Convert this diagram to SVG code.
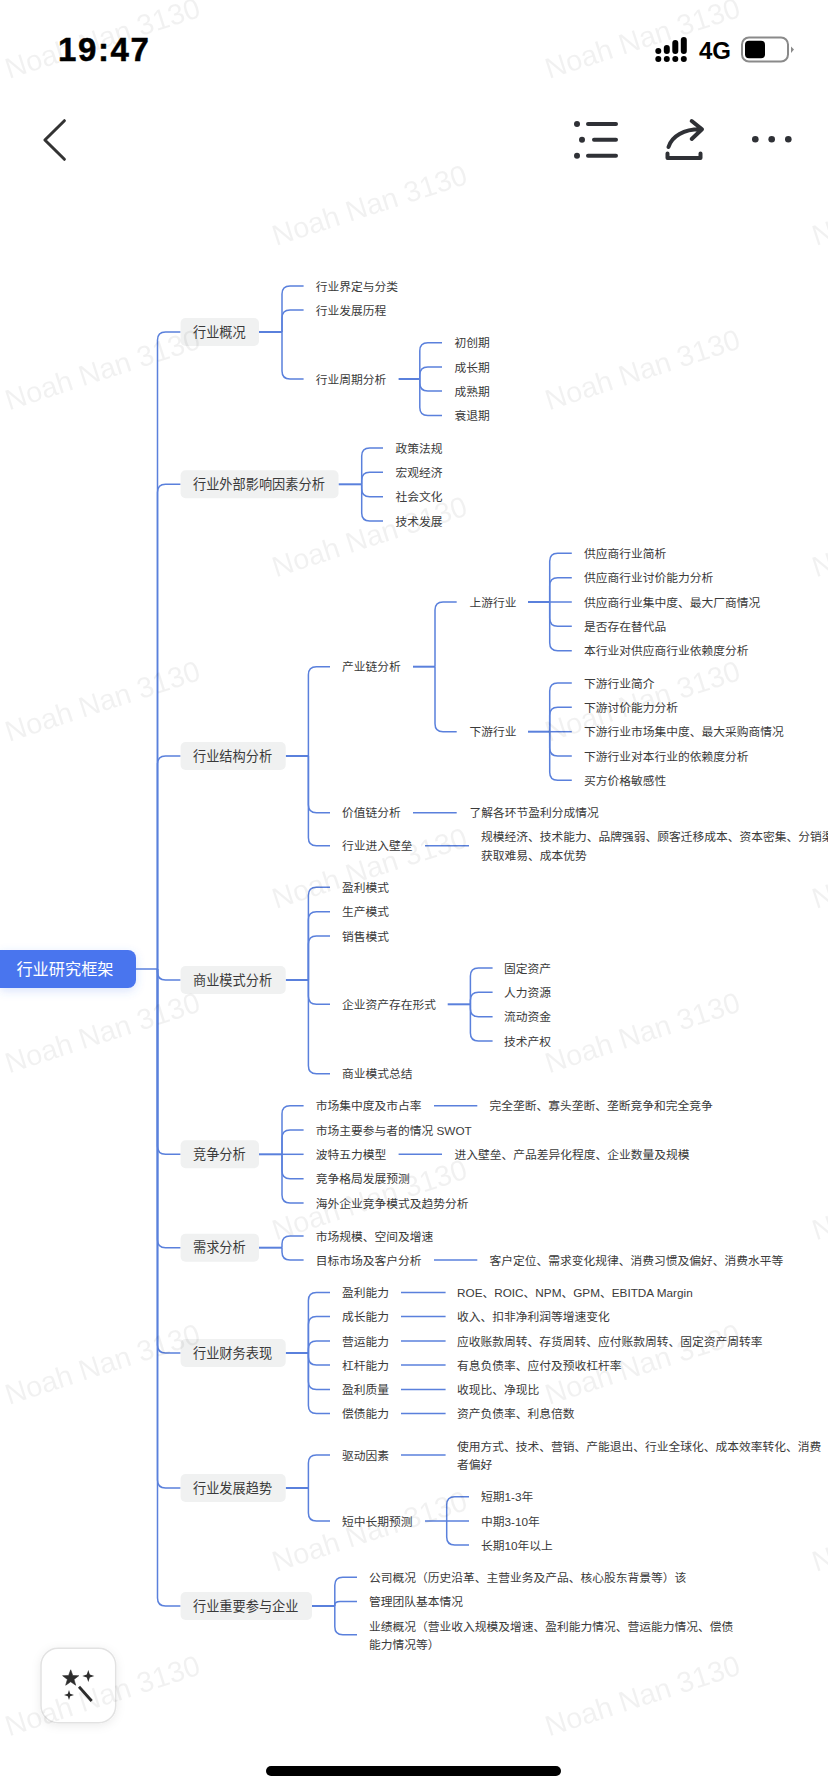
<svg xmlns="http://www.w3.org/2000/svg" width="828" height="1792" viewBox="0 0 828 1792">
<style>
text{font-family:"Liberation Sans","Noto Sans CJK SC",sans-serif;dominant-baseline:central}
.t{font-size:11.75px;fill:#3a3a3a}
.m{font-size:13.2px;fill:#3a3a3a}
.r{font-size:16.2px;fill:#fff}
.b{fill:#f0f1f1}
.c path{fill:none;stroke:#5a80dc;stroke-width:1.5}
.c .s{stroke-width:2}
.w text{font-family:"Liberation Sans",sans-serif;font-size:29px;fill:#000;opacity:.05;dominant-baseline:auto}
.i{fill:none;stroke:#2f3136;stroke-width:4;stroke-linecap:round;stroke-linejoin:round}
.d{fill:#2f3136}
</style>
<defs>
<filter id="sh" x="-30%" y="-30%" width="160%" height="170%"><feDropShadow dx="0" dy="3" stdDeviation="5" flood-color="#4a74ee" flood-opacity=".2"/></filter>
<filter id="sg" x="-30%" y="-30%" width="160%" height="160%"><feDropShadow dx="0" dy="2" stdDeviation="5" flood-color="#000" flood-opacity=".08"/></filter>
</defs>
<rect width="828" height="1792" fill="#fff"/>

<g id="statusbar">
<text x="58" y="61" style="font-family:'Liberation Sans',sans-serif;font-size:33px;font-weight:700;letter-spacing:1.6px;dominant-baseline:auto" fill="#000" stroke="#000" stroke-width=".5">19:47</text>
<g fill="#000">
<circle cx="658.3" cy="59" r="3"/><circle cx="666.8" cy="59" r="3"/><circle cx="675.3" cy="59" r="3"/><circle cx="683.8" cy="59" r="3"/>
<rect x="655.3" y="48" width="6" height="6" rx="3"/><rect x="663.8" y="45" width="6" height="9" rx="3"/><rect x="672.3" y="40" width="6" height="14" rx="3"/><rect x="680.8" y="37" width="6" height="17" rx="3"/>
<rect x="745" y="40.7" width="20" height="17.6" rx="4"/>
</g>
<text x="699" y="59" style="font-family:'Liberation Sans',sans-serif;font-size:24px;font-weight:700;dominant-baseline:auto" fill="#000">4G</text>
<rect x="742" y="37.5" width="46" height="24" rx="7" fill="none" stroke="#8a8a8a" stroke-width="2"/>
<path d="M791 46.5L794 49.5L791 53Z" fill="#8a8a8a"/>
</g>

<g id="toolbar">
<path d="M64.4 120.7L44.9 140L64.4 159.3" fill="none" stroke="#333" stroke-width="3" stroke-linecap="round" stroke-linejoin="round"/>
<circle class="d" cx="577" cy="124" r="3"/><circle class="d" cx="582" cy="139.7" r="3"/><circle class="d" cx="577" cy="155.7" r="3"/>
<path class="i" d="M588 124H616M594 139.7H616M588 155.7H616"/>
<path class="i" d="M668.5 147C672 136 684 129.3 700 129.3M691.7 121L702 129.3L691.7 139M667.5 153.5V158H700.5V153.5"/>
<circle class="d" cx="755.3" cy="139.3" r="3.3"/><circle class="d" cx="771.7" cy="139.3" r="3.3"/><circle class="d" cx="788.3" cy="139.3" r="3.3"/>
</g>

<g class="c" id="connectors">
<path d="M136 969H157.5"/>
<path d="M157.5 969V340Q157.5 332 165.5 332H180.6"/>
<path d="M157.5 969V492.3Q157.5 484.3 165.5 484.3H180.6"/>
<path d="M157.5 969V764Q157.5 756 165.5 756H180.6"/>
<path d="M157.5 969V972Q157.5 980 165.5 980H180.6"/>
<path d="M157.5 969V1146.3Q157.5 1154.3 165.5 1154.3H180.6"/>
<path d="M157.5 969V1239.7Q157.5 1247.7 165.5 1247.7H180.6"/>
<path d="M157.5 969V1345Q157.5 1353 165.5 1353H180.6"/>
<path d="M157.5 969V1480Q157.5 1488 165.5 1488H180.6"/>
<path d="M157.5 969V1598Q157.5 1606 165.5 1606H180.6"/>

<path class="s" d="M259 332H282"/>
<path d="M282 332V294Q282 286 290 286H303.6"/>
<path d="M282 332V318Q282 310 290 310H303.6"/>
<path d="M282 332V371Q282 379 290 379H303.6"/>
<path class="s" d="M398.6 379H419.8"/>
<path d="M419.8 379V350.7Q419.8 342.7 427.8 342.7H442"/>
<path d="M419.8 379V375Q419.8 367 427.8 367H442"/>
<path d="M419.8 379V383Q419.8 391 427.8 391H442"/>
<path d="M419.8 379V407.5Q419.8 415.5 427.8 415.5H442"/>

<path class="s" d="M338.5 484.3H361.7"/>
<path d="M361.7 484.3V456Q361.7 448 369.7 448H383"/>
<path d="M361.7 484.3V480.3Q361.7 472.3 369.7 472.3H383"/>
<path d="M361.7 484.3V488.7Q361.7 496.7 369.7 496.7H383"/>
<path d="M361.7 484.3V513Q361.7 521 369.7 521H383"/>

<path class="s" d="M285.7 756H308.4"/>
<path d="M308.4 756V674.7Q308.4 666.7 316.4 666.7H330"/>
<path d="M308.4 756V804.7Q308.4 812.7 316.4 812.7H330"/>
<path d="M308.4 756V837.7Q308.4 845.7 316.4 845.7H330"/>
<path class="s" d="M413 666.7H435"/>
<path d="M435 666.7V610Q435 602 443 602H456.7"/>
<path d="M435 666.7V723.7Q435 731.7 443 731.7H456.7"/>
<path class="s" d="M528 602H549.7"/>
<path d="M549.7 602V561.3Q549.7 553.3 557.7 553.3H571.8"/>
<path d="M549.7 602V585.7Q549.7 577.7 557.7 577.7H571.8"/>
<path d="M549.7 602H571.8"/>
<path d="M549.7 602V618.3Q549.7 626.3 557.7 626.3H571.8"/>
<path d="M549.7 602V642.7Q549.7 650.7 557.7 650.7H571.8"/>
<path class="s" d="M528 731.7H549.7"/>
<path d="M549.7 731.7V691Q549.7 683 557.7 683H571.8"/>
<path d="M549.7 731.7V715.3Q549.7 707.3 557.7 707.3H571.8"/>
<path d="M549.7 731.7H571.8"/>
<path d="M549.7 731.7V748Q549.7 756 557.7 756H571.8"/>
<path d="M549.7 731.7V772.3Q549.7 780.3 557.7 780.3H571.8"/>
<path d="M413 812.7H456.7"/>
<path d="M425 845.7H469"/>

<path class="s" d="M285.7 980H308.4"/>
<path d="M308.4 980V895.3Q308.4 887.3 316.4 887.3H330"/>
<path d="M308.4 980V919.7Q308.4 911.7 316.4 911.7H330"/>
<path d="M308.4 980V944Q308.4 936 316.4 936H330"/>
<path d="M308.4 980V996.3Q308.4 1004.3 316.4 1004.3H330"/>
<path d="M308.4 980V1065.7Q308.4 1073.7 316.4 1073.7H330"/>
<path class="s" d="M447.7 1004.3H470.4"/>
<path d="M470.4 1004.3V976Q470.4 968 478.4 968H492.6"/>
<path d="M470.4 1004.3V1000.3Q470.4 992.3 478.4 992.3H492.6"/>
<path d="M470.4 1004.3V1008.7Q470.4 1016.7 478.4 1016.7H492.6"/>
<path d="M470.4 1004.3V1033Q470.4 1041 478.4 1041H492.6"/>

<path class="s" d="M259 1154.3H282"/>
<path d="M282 1154.3V1113.7Q282 1105.7 290 1105.7H303.6"/>
<path d="M282 1154.3V1138Q282 1130 290 1130H303.6"/>
<path d="M282 1154.3H303.6"/>
<path d="M282 1154.3V1170.7Q282 1178.7 290 1178.7H303.6"/>
<path d="M282 1154.3V1195Q282 1203 290 1203H303.6"/>
<path d="M434 1105.7H477.3"/>
<path d="M398.6 1154.3H442"/>

<path class="s" d="M259 1247.7H282"/>
<path d="M282 1247.7V1244Q282 1236 290 1236H303.6"/>
<path d="M282 1247.7V1252Q282 1260 290 1260H303.6"/>
<path d="M434 1260H477.3"/>

<path class="s" d="M285.7 1353H308.4"/>
<path d="M308.4 1353V1300.5Q308.4 1292.5 316.4 1292.5H330"/>
<path d="M308.4 1353V1324.4Q308.4 1316.4 316.4 1316.4H330"/>
<path d="M308.4 1353V1349Q308.4 1341 316.4 1341H330"/>
<path d="M308.4 1353V1357Q308.4 1365 316.4 1365H330"/>
<path d="M308.4 1353V1381.6Q308.4 1389.6 316.4 1389.6H330"/>
<path d="M308.4 1353V1405.6Q308.4 1413.6 316.4 1413.6H330"/>
<path d="M401 1292.5H445.6"/>
<path d="M401 1316.4H445.6"/>
<path d="M401 1341H445.6"/>
<path d="M401 1365H445.6"/>
<path d="M401 1389.6H445.6"/>
<path d="M401 1413.6H445.6"/>

<path class="s" d="M285.7 1488H308.4"/>
<path d="M308.4 1488V1463Q308.4 1455 316.4 1455H330"/>
<path d="M308.4 1488V1513Q308.4 1521 316.4 1521H330"/>
<path d="M401 1455H445.6"/>
<path d="M425 1521H469"/>
<path d="M446.7 1521V1504.7Q446.7 1496.7 454.7 1496.7H469"/>
<path d="M446.7 1521V1537Q446.7 1545 454.7 1545H469"/>

<path class="s" d="M312 1606H334.8"/>
<path d="M334.8 1606V1585.3Q334.8 1577.3 342.8 1577.3H357"/>
<path d="M334.8 1606V1605Q334.8 1601.6 340 1601.6H357"/>
<path d="M334.8 1606V1626.7Q334.8 1634.7 342.8 1634.7H357"/>
</g>

<g id="root"><path d="M0 950H128a8 8 0 0 1 8 8V980a8 8 0 0 1 -8 8H0Z" fill="#4a74ee" filter="url(#sh)"/><text class="r" x="16.4" y="969">行业研究框架</text></g>

<g id="n1"><rect class="b" x="180.6" y="318" width="78.4" height="28" rx="5"/><text class="m" x="193" y="332">行业概况</text></g>
<g id="n1-1"><text class="t" x="315.7" y="286">行业界定与分类</text></g>
<g id="n1-2"><text class="t" x="315.7" y="310">行业发展历程</text></g>
<g id="n1-3"><text class="t" x="315.7" y="379">行业周期分析</text></g>
<g id="n1-3-1"><text class="t" x="454.6" y="342.7">初创期</text></g>
<g id="n1-3-2"><text class="t" x="454.6" y="367">成长期</text></g>
<g id="n1-3-3"><text class="t" x="454.6" y="391">成熟期</text></g>
<g id="n1-3-4"><text class="t" x="454.6" y="415.5">衰退期</text></g>

<g id="n2"><rect class="b" x="180.6" y="470.3" width="157.9" height="28" rx="5"/><text class="m" x="193" y="484.3">行业外部影响因素分析</text></g>
<g id="n2-1"><text class="t" x="395.5" y="448">政策法规</text></g>
<g id="n2-2"><text class="t" x="395.5" y="472.3">宏观经济</text></g>
<g id="n2-3"><text class="t" x="395.5" y="496.7">社会文化</text></g>
<g id="n2-4"><text class="t" x="395.5" y="521">技术发展</text></g>

<g id="n3"><rect class="b" x="180.6" y="742" width="105.1" height="28" rx="5"/><text class="m" x="193" y="756">行业结构分析</text></g>
<g id="n3-1"><text class="t" x="342" y="666.7">产业链分析</text></g>
<g id="n3-1-1"><text class="t" x="469.4" y="602">上游行业</text></g>
<g id="n3-1-1-1"><text class="t" x="584" y="553.3">供应商行业简析</text></g>
<g id="n3-1-1-2"><text class="t" x="584" y="577.7">供应商行业讨价能力分析</text></g>
<g id="n3-1-1-3"><text class="t" x="584" y="602">供应商行业集中度、最大厂商情况</text></g>
<g id="n3-1-1-4"><text class="t" x="584" y="626.3">是否存在替代品</text></g>
<g id="n3-1-1-5"><text class="t" x="584" y="650.7">本行业对供应商行业依赖度分析</text></g>
<g id="n3-1-2"><text class="t" x="469.4" y="731.7">下游行业</text></g>
<g id="n3-1-2-1"><text class="t" x="584" y="683">下游行业简介</text></g>
<g id="n3-1-2-2"><text class="t" x="584" y="707.3">下游讨价能力分析</text></g>
<g id="n3-1-2-3"><text class="t" x="584" y="731.7">下游行业市场集中度、最大采购商情况</text></g>
<g id="n3-1-2-4"><text class="t" x="584" y="756">下游行业对本行业的依赖度分析</text></g>
<g id="n3-1-2-5"><text class="t" x="584" y="780.3">买方价格敏感性</text></g>
<g id="n3-2"><text class="t" x="342" y="812.7">价值链分析</text></g>
<g id="n3-2-1"><text class="t" x="469.4" y="812.7">了解各环节盈利分成情况</text></g>
<g id="n3-3"><text class="t" x="342" y="845.7">行业进入壁垒</text></g>
<g id="n3-3-1"><text class="t" x="481" y="836.7">规模经济、技术能力、品牌强弱、顾客迁移成本、资本密集、分销渠</text><text class="t" x="481" y="855">获取难易、成本优势</text></g>

<g id="n4"><rect class="b" x="180.6" y="966" width="105.1" height="28" rx="5"/><text class="m" x="193" y="980">商业模式分析</text></g>
<g id="n4-1"><text class="t" x="342" y="887.3">盈利模式</text></g>
<g id="n4-2"><text class="t" x="342" y="911.7">生产模式</text></g>
<g id="n4-3"><text class="t" x="342" y="936">销售模式</text></g>
<g id="n4-4"><text class="t" x="342" y="1004.3">企业资产存在形式</text></g>
<g id="n4-4-1"><text class="t" x="504" y="968">固定资产</text></g>
<g id="n4-4-2"><text class="t" x="504" y="992.3">人力资源</text></g>
<g id="n4-4-3"><text class="t" x="504" y="1016.7">流动资金</text></g>
<g id="n4-4-4"><text class="t" x="504" y="1041">技术产权</text></g>
<g id="n4-5"><text class="t" x="342" y="1073.7">商业模式总结</text></g>

<g id="n5"><rect class="b" x="180.6" y="1140.3" width="78.4" height="28" rx="5"/><text class="m" x="193" y="1154.3">竞争分析</text></g>
<g id="n5-1"><text class="t" x="315.7" y="1105.7">市场集中度及市占率</text></g>
<g id="n5-1-1"><text class="t" x="489.5" y="1105.7">完全垄断、寡头垄断、垄断竞争和完全竞争</text></g>
<g id="n5-2"><text class="t" x="315.7" y="1130">市场主要参与者的情况 SWOT</text></g>
<g id="n5-3"><text class="t" x="315.7" y="1154.3">波特五力模型</text></g>
<g id="n5-3-1"><text class="t" x="454.6" y="1154.3">进入壁垒、产品差异化程度、企业数量及规模</text></g>
<g id="n5-4"><text class="t" x="315.7" y="1178.7">竞争格局发展预测</text></g>
<g id="n5-5"><text class="t" x="315.7" y="1203">海外企业竞争模式及趋势分析</text></g>

<g id="n6"><rect class="b" x="180.6" y="1233.7" width="78.4" height="28" rx="5"/><text class="m" x="193" y="1247.7">需求分析</text></g>
<g id="n6-1"><text class="t" x="315.7" y="1236">市场规模、空间及增速</text></g>
<g id="n6-2"><text class="t" x="315.7" y="1260">目标市场及客户分析</text></g>
<g id="n6-2-1"><text class="t" x="489.5" y="1260">客户定位、需求变化规律、消费习惯及偏好、消费水平等</text></g>

<g id="n7"><rect class="b" x="180.6" y="1339" width="105.1" height="28" rx="5"/><text class="m" x="193" y="1353">行业财务表现</text></g>
<g id="n7-1"><text class="t" x="342" y="1292.5">盈利能力</text></g>
<g id="n7-1-1"><text class="t" x="457" y="1292.5">ROE、ROIC、NPM、GPM、EBITDA Margin</text></g>
<g id="n7-2"><text class="t" x="342" y="1316.4">成长能力</text></g>
<g id="n7-2-1"><text class="t" x="457" y="1316.4">收入、扣非净利润等增速变化</text></g>
<g id="n7-3"><text class="t" x="342" y="1341">营运能力</text></g>
<g id="n7-3-1"><text class="t" x="457" y="1341">应收账款周转、存货周转、应付账款周转、固定资产周转率</text></g>
<g id="n7-4"><text class="t" x="342" y="1365">杠杆能力</text></g>
<g id="n7-4-1"><text class="t" x="457" y="1365">有息负债率、应付及预收杠杆率</text></g>
<g id="n7-5"><text class="t" x="342" y="1389.6">盈利质量</text></g>
<g id="n7-5-1"><text class="t" x="457" y="1389.6">收现比、净现比</text></g>
<g id="n7-6"><text class="t" x="342" y="1413.6">偿债能力</text></g>
<g id="n7-6-1"><text class="t" x="457" y="1413.6">资产负债率、利息倍数</text></g>

<g id="n8"><rect class="b" x="180.6" y="1474" width="105.1" height="28" rx="5"/><text class="m" x="193" y="1488">行业发展趋势</text></g>
<g id="n8-1"><text class="t" x="342" y="1455">驱动因素</text></g>
<g id="n8-1-1"><text class="t" x="457" y="1446">使用方式、技术、营销、产能退出、行业全球化、成本效率转化、消费</text><text class="t" x="457" y="1464">者偏好</text></g>
<g id="n8-2"><text class="t" x="342" y="1521">短中长期预测</text></g>
<g id="n8-2-1"><text class="t" x="481" y="1496.7">短期1-3年</text></g>
<g id="n8-2-2"><text class="t" x="481" y="1521">中期3-10年</text></g>
<g id="n8-2-3"><text class="t" x="481" y="1545">长期10年以上</text></g>

<g id="n9"><rect class="b" x="180.6" y="1592" width="131.4" height="28" rx="5"/><text class="m" x="193" y="1606">行业重要参与企业</text></g>
<g id="n9-1"><text class="t" x="369" y="1577.3">公司概况（历史沿革、主营业务及产品、核心股东背景等）该</text></g>
<g id="n9-2"><text class="t" x="369" y="1601.6">管理团队基本情况</text></g>
<g id="n9-3"><text class="t" x="369" y="1626.3">业绩概况（营业收入规模及增速、盈利能力情况、营运能力情况、偿债</text><text class="t" x="369" y="1644.6">能力情况等）</text></g>

<g id="wand">
<rect x="41" y="1648.3" width="74.7" height="74.4" rx="17" fill="#fff" stroke="#e2e2e2" stroke-width="1.5" filter="url(#sg)"/>
<path d="M70.7 1669.8L72.8 1675.5L78.8 1675.7L74 1679.4L75.7 1685.2L70.7 1681.8L65.7 1685.2L67.4 1679.4L62.6 1675.7L68.6 1675.5Z" fill="#2d2d2d" stroke="#2d2d2d" stroke-width=".6"/>
<path d="M88.3 1670L89.8 1674.5L94.3 1676L89.8 1677.5L88.3 1682L86.8 1677.5L82.3 1676L86.8 1674.5Z" fill="#2d2d2d"/>
<path d="M69 1690L70.2 1693.8L74 1695L70.2 1696.2L69 1700L67.8 1696.2L64 1695L67.8 1693.8Z" fill="#2d2d2d"/>
<path d="M79 1686.7L91.7 1701" stroke="#2d2d2d" stroke-width="2.8" fill="none"/>
</g>

<g id="homebar"><rect x="266" y="1766" width="295" height="10" rx="5" fill="#000"/></g>

<g class="w" id="watermarks">
<text transform="translate(9 79) rotate(-18)">Noah Nan 3130</text>
<text transform="translate(9 410.5) rotate(-18)">Noah Nan 3130</text>
<text transform="translate(9 742) rotate(-18)">Noah Nan 3130</text>
<text transform="translate(9 1073.5) rotate(-18)">Noah Nan 3130</text>
<text transform="translate(9 1405) rotate(-18)">Noah Nan 3130</text>
<text transform="translate(9 1736.5) rotate(-18)">Noah Nan 3130</text>
<text transform="translate(549 79) rotate(-18)">Noah Nan 3130</text>
<text transform="translate(549 410.5) rotate(-18)">Noah Nan 3130</text>
<text transform="translate(549 742) rotate(-18)">Noah Nan 3130</text>
<text transform="translate(549 1073.5) rotate(-18)">Noah Nan 3130</text>
<text transform="translate(549 1405) rotate(-18)">Noah Nan 3130</text>
<text transform="translate(549 1736.5) rotate(-18)">Noah Nan 3130</text>
<text transform="translate(276 246) rotate(-18)">Noah Nan 3130</text>
<text transform="translate(276 577.5) rotate(-18)">Noah Nan 3130</text>
<text transform="translate(276 909) rotate(-18)">Noah Nan 3130</text>
<text transform="translate(276 1240.5) rotate(-18)">Noah Nan 3130</text>
<text transform="translate(276 1572) rotate(-18)">Noah Nan 3130</text>
<text transform="translate(816 246) rotate(-18)">Noah Nan 3130</text>
<text transform="translate(816 577.5) rotate(-18)">Noah Nan 3130</text>
<text transform="translate(816 909) rotate(-18)">Noah Nan 3130</text>
<text transform="translate(816 1240.5) rotate(-18)">Noah Nan 3130</text>
<text transform="translate(816 1572) rotate(-18)">Noah Nan 3130</text>
</g>
</svg>
